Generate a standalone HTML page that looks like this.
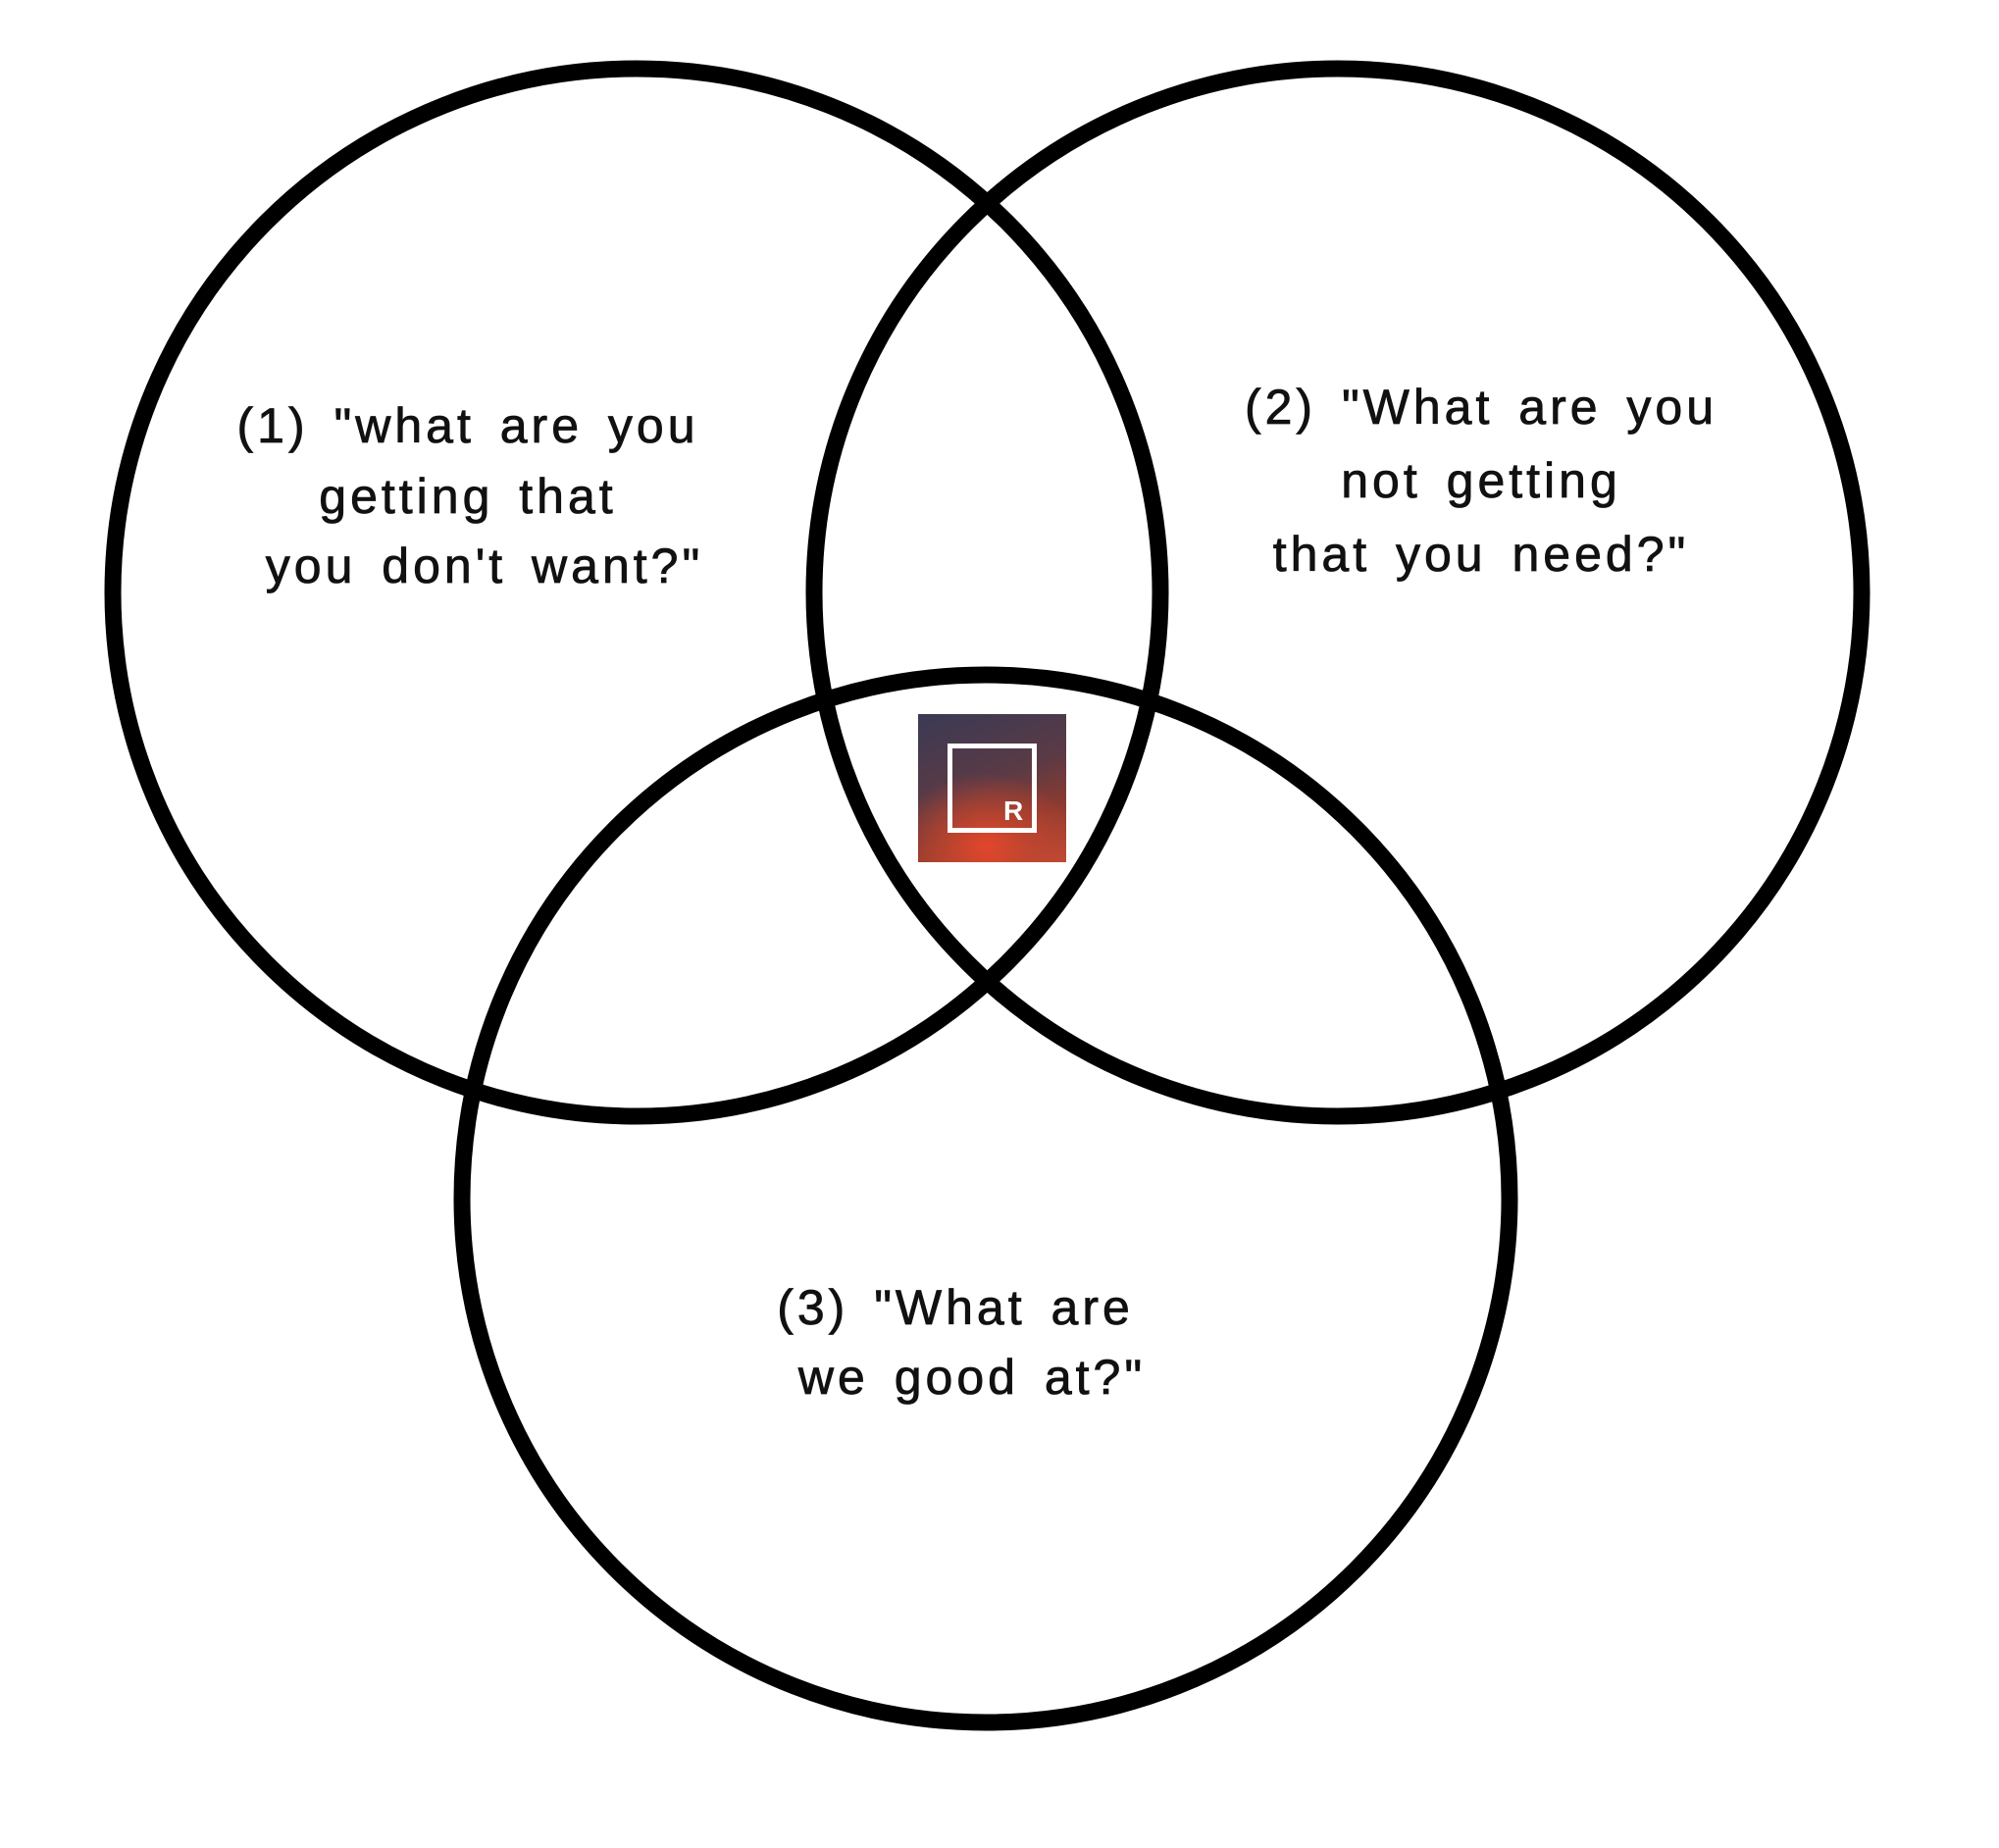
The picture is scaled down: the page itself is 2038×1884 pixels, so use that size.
<!DOCTYPE html>
<html><head><meta charset="utf-8"><style>
html,body{margin:0;padding:0;background:#fff;}
body{width:2038px;height:1884px;position:relative;overflow:hidden;}
svg{position:absolute;left:0;top:0;}
.logo{position:absolute;left:936px;top:728px;width:151px;height:151px;
background:radial-gradient(ellipse 95px 75px at 70px 135px,#e3462c 0%,rgba(200,70,45,0.7) 45%,rgba(0,0,0,0) 100%),linear-gradient(160deg,#3a3a55 0%,#5a3a45 45%,#8a3a30 70%,#c04a35 100%);}
.logo:before{content:"";position:absolute;left:30px;top:30px;width:81px;height:81px;border:5px solid #fff;}
.logo span{position:absolute;left:87px;top:83px;color:#fff;font:bold 28px "Liberation Sans",sans-serif;}
</style></head><body>
<svg width="2038" height="1884" viewBox="0 0 2038 1884">
<g fill="none" stroke="#000" stroke-width="17">
<circle cx="649" cy="604" r="534"/>
<circle cx="1364" cy="604" r="534"/>
<circle cx="1005" cy="1222" r="534"/>
</g>
<g font-family="Liberation Sans, sans-serif" font-size="50" fill="#111" text-anchor="middle" letter-spacing="4" word-spacing="8" stroke="#111" stroke-width="0.8">
<text x="477" y="451">(1) "what are you</text>
<text x="477" y="523">getting that</text>
<text x="494" y="594">you don't want?"</text>
<text x="1510" y="432">(2) "What are you</text>
<text x="1510" y="507">not getting</text>
<text x="1510" y="582">that you need?"</text>
<text x="974" y="1350">(3) "What are</text>
<text x="991" y="1421">we good at?"</text>
</g>
</svg>
<div class="logo"><span>R</span></div>
</body></html>
